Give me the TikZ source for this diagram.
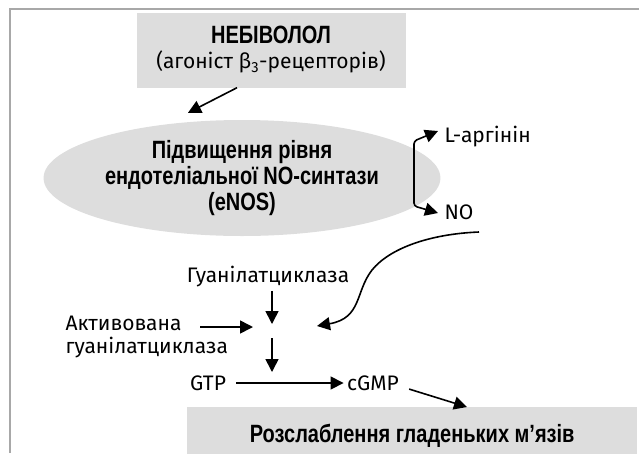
\documentclass[tikz,border=0pt]{standalone}
\usepackage{fontspec}
\setmainfont{Fira Sans}
\newfontfamily\condfont[FakeStretch=0.8]{Liberation Sans}
\usepackage{xcolor}
\usetikzlibrary{arrows.meta, positioning, shapes.geometric}

\definecolor{boxgray}{RGB}{221,221,221}
\definecolor{framegray}{RGB}{168,168,168}

\begin{document}
\begin{tikzpicture}[
  x=1pt, y=-1pt,
  every node/.style={font=\fontsize{21}{24}\selectfont},
  graybox/.style={rectangle, fill=boxgray, align=center},
  boldtxt/.style={font=\condfont\bfseries\fontsize{25}{26}\selectfont},
  arr/.style={draw, line width=1.6pt, -{Triangle[length=13pt,width=13pt]}},
  twoarr/.style={draw, line width=1.6pt, rounded corners=3pt, {Triangle[length=13pt,width=13pt]}-{Triangle[length=13pt,width=13pt]}}
  ]
\useasboundingbox (0,0) rectangle (639,453);

% Frame
\draw[framegray, line width=1.8pt] (10,453) -- (10,9) -- (639,9);

% Nodes
\node[graybox, minimum width=269pt, minimum height=75pt] (nebi) at (271,50)
  {{\condfont\bfseries\fontsize{25}{27}\selectfont НЕБІВОЛОЛ}\\[1pt] (агоніст β\textsubscript{3}-рецепторів)};
\node[ellipse, fill=boxgray, minimum width=285pt, minimum height=116pt, boldtxt, align=center] (enos) at (242,178)
  {Підвищення рівня\\ендотеліальної NO-синтази\\(eNOS)};
\node[anchor=west] (larg) at (441,137) {L-аргінін};
\node[anchor=west] (no) at (441,212) {NO};
\node (guan) at (268,277) {Гуанілатциклаза};
\node[anchor=west, align=left, font=\fontsize{21}{23}\selectfont] (act) at (62,337) {Активована\\гуанілатциклаза};
\node (gtp) at (208,383) {GTP};
\node (cgmp) at (373,383) {cGMP};
\node[graybox, boldtxt, minimum width=450pt, minimum height=58pt, anchor=north west] (relax) at (187,407)
  {Розслаблення гладеньких м’язів};

% Free ends
\coordinate (hubtop) at (272,324);
\coordinate (hubleft) at (253,327);
\coordinate (hubright) at (317,326);
\coordinate (hubbot) at (272,338);
\coordinate (gtpin) at (272,372);
\coordinate (actout) at (200,327);
\coordinate (noout) at (479,232);

% Edges
\draw[arr] ([xshift=-34pt]nebi.south) -- ([xshift=-54pt,yshift=7pt]enos.north);
\draw[twoarr] ([xshift=-3pt,yshift=6pt]larg.west) -- ++(-24,10) -- ++(0,65) -- ([xshift=-3pt,yshift=-1pt]no.west);
\draw[arr] (guan.south -| hubtop) -- (hubtop);
\draw[arr] (actout) -- (hubleft);
\draw[arr] (noout) .. controls (430,234) and (390,248) .. (372,270)
  .. controls (355,292) and (362,318) .. (hubright);
\draw[arr] (hubbot) -- (gtpin);
\draw[arr, shorten <=7pt] (gtp.east) -- (cgmp.west);
\draw[arr, shorten <=7pt] ([yshift=-4pt]cgmp.east) -- (relax.north -| 467,0);

\end{tikzpicture}
\end{document}
